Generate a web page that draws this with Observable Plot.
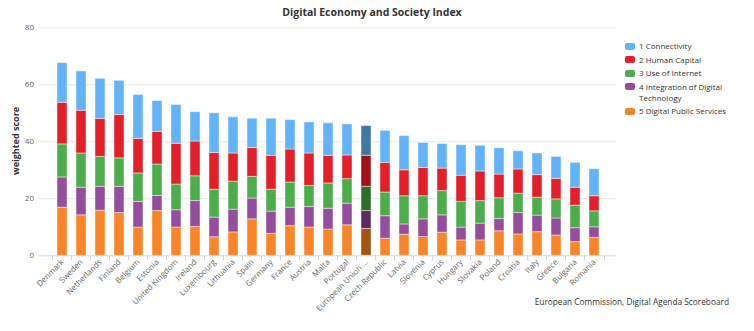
<!DOCTYPE html>
<html>
<head>
<meta charset="utf-8">
<script src="https://cdn.jsdelivr.net/npm/d3@7"></script>
<script src="https://cdn.jsdelivr.net/npm/@observablehq/plot@0.6"></script>
<style>
  html, body { margin: 0; padding: 0; background: #fff; }
  #wrap { position: relative; width: 754px; height: 331px; font-family: "Open Sans", "DejaVu Sans", sans-serif; overflow: hidden; }
  #wrap svg { position: absolute; left: 0; top: 0; }
  .title { position: absolute; left: 372px; top: 5px; transform: translateX(-50%); font-weight: 700; font-size: 10.5px; color: #333; white-space: nowrap; }
  .ylab { position: absolute; left: 15px; top: 141px; transform: translate(-50%, -50%) rotate(-90deg); font-weight: 700; font-size: 9px; color: #333; white-space: nowrap; }
  .legend { position: absolute; left: 625px; top: 40px; font-size: 8px; color: #333; }
  .item { position: relative; padding-left: 14px; width: 92px; line-height: 11px; margin-bottom: 2.5px; }
  .sw { position: absolute; left: 0; top: 2.5px; width: 10px; height: 7px; border-radius: 2px; }
  .caption { position: absolute; right: 25px; top: 296px; font-size: 8.3px; color: #333; white-space: nowrap; }
</style>
</head>
<body>
<div id="wrap"></div>
<script>
const countries = ["Denmark","Sweden","Netherlands","Finland","Belgium","Estonia","United Kingdom","Ireland","Luxembourg","Lithuania","Spain","Germany","France","Austria","Malta","Portugal","European Union ...","Czech Republic","Latvia","Slovenia","Cyprus","Hungary","Slovakia","Poland","Croatia","Italy","Greece","Bulgaria","Romania"];
const connectivity   = [13.9,13.8,14.1,12.0,15.4,10.8,13.6,10.3,13.9,12.7,10.3,13.0,10.3,10.9,11.4,10.9,10.4,11.2,12.0,8.8,8.6,10.7,9.0,9.2,6.4,7.6,7.7,8.7,9.5];
const humanCapital   = [14.6,15.0,13.3,15.2,12.1,11.5,14.3,12.2,12.9,9.9,10.1,11.9,11.6,11.4,9.7,8.3,10.9,10.4,9.1,9.9,7.9,9.2,10.4,8.3,8.5,7.9,7.2,6.3,5.3];
const useOfInternet  = [11.6,12.0,10.5,10.0,10.0,11.0,9.0,8.7,9.8,9.8,7.6,7.7,8.8,7.4,8.9,8.6,8.5,8.3,9.9,8.1,8.5,9.0,7.9,7.3,6.8,6.3,6.7,7.9,5.6];
const integration    = [10.6,9.7,8.4,9.2,9.0,5.3,6.1,9.1,6.9,8.0,7.3,7.8,6.5,7.2,7.3,7.6,6.3,7.9,3.6,6.2,6.1,4.5,5.9,4.3,7.5,5.8,6.0,4.9,3.7];
const publicServices = [16.9,14.2,15.8,15.0,9.9,15.7,9.9,10.1,6.5,8.2,12.8,7.7,10.4,9.9,9.2,10.7,9.4,6.0,7.4,6.6,8.1,5.4,5.4,8.6,7.5,8.3,7.1,4.8,6.3];
const series = ["1 Connectivity","2 Human Capital","3 Use of Internet","4 Integration of Digital Technology","5 Digital Public Services"];
const colors     = ["#62b3f9","#e3202a","#4cad4b","#944e9d","#fb8427"];
const darkColors = ["#3d78a6","#a21219","#2e6e2d","#5d2a66","#a45510"];
const yTicks = [0,20,40,60,80];

const valuesBySeries = [connectivity, humanCapital, useOfInternet, integration, publicServices];
const rows = [];
countries.forEach((c, i) => {
  for (let s = series.length - 1; s >= 0; s--) {
    const eu = c.startsWith("European");
    rows.push({country: c, comp: series[s], value: valuesBySeries[s][i], color: (eu ? darkColors : colors)[s]});
  }
});

const W = 754, H = 331, mL = 38.5, mR = 137.5, mT = 27.3, mB = 75.7;
const step = (W - mL - mR) / countries.length;
const plotH = H - mT - mB;

const chart = Plot.plot({
  width: W, height: H,
  marginLeft: mL, marginRight: mR, marginTop: mT, marginBottom: mB,
  style: {fontFamily: "'Open Sans', 'DejaVu Sans', sans-serif", background: "transparent"},
  x: {domain: countries, paddingInner: 0.5, paddingOuter: 0.25, label: null},
  y: {domain: [0, 80], label: null},
  color: {type: "identity"},
  marks: [
    Plot.gridY(yTicks.slice(1), {stroke: "#e6e6e6", strokeOpacity: 1}),
    Plot.axisY(yTicks, {tickSize: 0, tickPadding: 5, fontSize: 8, fill: "#666", label: null}),
    Plot.barY(rows, {x: "country", y: "value", z: "comp", fill: "color", stroke: "white", strokeOpacity: 0.45, strokeWidth: 1}),
    Plot.ruleY([0], {stroke: "#ccd6eb"}),
    Plot.ruleX(countries, {x: d => d, dx: -step / 2, insetTop: plotH, insetBottom: -5, stroke: "#ccd6eb"}),
    Plot.ruleX(countries.slice(-1), {x: d => d, dx: step / 2, insetTop: plotH, insetBottom: -5, stroke: "#ccd6eb"}),
    Plot.axisX({tickSize: 0, tickPadding: 5, tickRotate: -45, fontSize: 8, fill: "#666", label: null})
  ]
});

const wrap = document.getElementById("wrap");
wrap.appendChild(chart);

const t = document.createElement("div"); t.className = "title"; t.textContent = "Digital Economy and Society Index"; wrap.appendChild(t);
const yl = document.createElement("div"); yl.className = "ylab"; yl.textContent = "weighted score"; wrap.appendChild(yl);
const lg = document.createElement("div"); lg.className = "legend";
series.forEach((s, i) => {
  const it = document.createElement("div"); it.className = "item";
  const sw = document.createElement("span"); sw.className = "sw"; sw.style.background = colors[i];
  it.appendChild(sw); it.appendChild(document.createTextNode(s));
  lg.appendChild(it);
});
wrap.appendChild(lg);
const cap = document.createElement("div"); cap.className = "caption"; cap.textContent = "European Commission, Digital Agenda Scoreboard"; wrap.appendChild(cap);
</script>
</body>
</html>
